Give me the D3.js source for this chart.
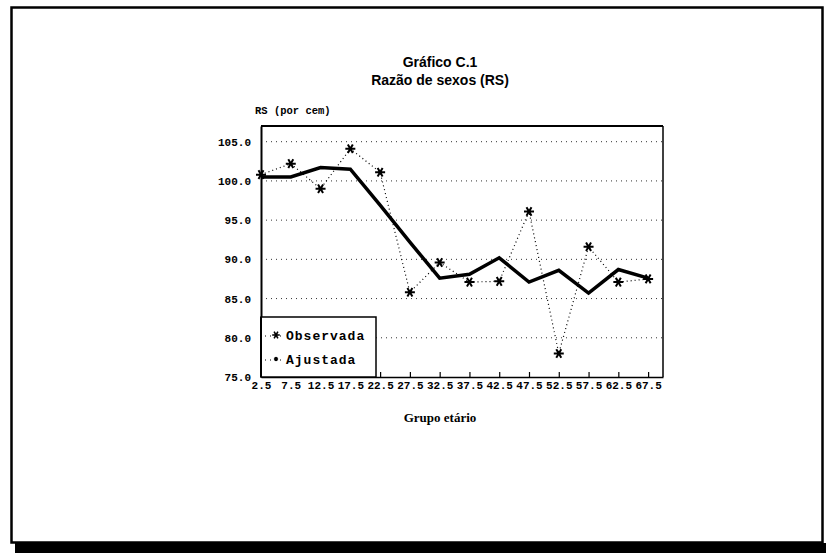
<!DOCTYPE html>
<html>
<head>
<meta charset="utf-8">
<title>Gráfico C.1</title>
<style>
  body { margin: 0; background: #fff; }
  svg { display: block; }
</style>
</head>
<body>
<script src="https://cdn.jsdelivr.net/npm/d3@7"></script>
<script>
  // dados
  var ages = [2.5, 7.5, 12.5, 17.5, 22.5, 27.5, 32.5, 37.5, 42.5, 47.5, 52.5, 57.5, 62.5, 67.5];
  var observada = [100.8, 102.2, 99.0, 104.1, 101.1, 85.8, 89.6, 87.1, 87.2, 96.1, 78.0, 91.6, 87.1, 87.5];
  var ajustada = [100.5, 100.5, 101.7, 101.5, 96.9, 92.2, 87.6, 88.1, 90.2, 87.1, 88.6, 85.7, 88.7, 87.6];
  var yTicks = [75, 80, 85, 90, 95, 100, 105];
  var legendLabels = ["Observada", "Ajustada"];

  var width = 826;
  var height = 553;
  var margin = ({ top: 126, right: 163, bottom: 176, left: 261 });

  var svg = d3.select("body").append("svg")
      .attr("width", width)
      .attr("height", height)
      .attr("viewBox", [0, 0, width, height]);

  // moldura com sombra
  svg.append("rect")
      .attr("x", 15).attr("y", 543)
      .attr("width", width - 15).attr("height", 10)
      .attr("fill", "#000");
  svg.append("rect")
      .attr("x", 11.5).attr("y", 7.5)
      .attr("width", 811).attr("height", 535)
      .attr("fill", "none")
      .attr("stroke", "#000")
      .attr("stroke-width", 2.5);

  var x = d3.scaleLinear()
      .domain([2.5, 70])
      .range([margin.left, width - margin.right]);

  var y = d3.scaleLinear()
      .domain([75, 107])
      .range([height - margin.bottom, margin.top]);

  // títulos
  svg.append("text")
      .attr("x", 440).attr("y", 67)
      .attr("text-anchor", "middle")
      .style("font", "bold 14px 'Liberation Sans', Arial, sans-serif")
      .text("Gráfico C.1");
  svg.append("text")
      .attr("x", 440).attr("y", 85)
      .attr("text-anchor", "middle")
      .style("font", "bold 14px 'Liberation Sans', Arial, sans-serif")
      .text("Razão de sexos (RS)");

  svg.append("text")
      .attr("x", 255).attr("y", 114)
      .style("font", "bold 10.5px 'Liberation Mono', monospace")
      .text("RS (por cem)");

  svg.append("text")
      .attr("x", 440).attr("y", 422)
      .attr("text-anchor", "middle")
      .style("font", "bold 13px 'Liberation Serif', serif")
      .text("Grupo etário");

  // grade pontilhada
  svg.append("g")
      .attr("class", "grid")
      .selectAll("line")
      .data(yTicks.filter(d => d > 75))
      .join("line")
      .attr("x1", x(2.5))
      .attr("x2", x(70))
      .attr("y1", d => y(d))
      .attr("y2", d => y(d))
      .attr("stroke", "#333")
      .attr("stroke-width", 1)
      .attr("stroke-dasharray", "1,4");

  // caixa do gráfico
  svg.append("line")
      .attr("x1", x(2.5)).attr("x2", x(70))
      .attr("y1", y(107)).attr("y2", y(107))
      .attr("stroke", "#000").attr("stroke-width", 2);
  svg.append("line")
      .attr("x1", x(70)).attr("x2", x(70))
      .attr("y1", y(107)).attr("y2", y(75))
      .attr("stroke", "#000").attr("stroke-width", 1.5);

  var xAxis = g => g
      .attr("transform", `translate(0,${y(75)})`)
      .call(d3.axisBottom(x).tickValues(ages).tickFormat(d3.format(".1f"))
        .tickSizeInner(-5).tickSizeOuter(0).tickPadding(4))
      .call(g => g.select(".domain").attr("stroke-width", 1.5))
      .call(g => g.selectAll(".tick line").attr("stroke-width", 1.2))
      .call(g => g.selectAll(".tick text")
        .style("font", "bold 11px 'Liberation Mono', monospace")
        .attr("fill", "#000"));

  var yAxis = g => g
      .attr("transform", `translate(${x(2.5)},0)`)
      .call(d3.axisLeft(y).tickValues(yTicks).tickFormat(d3.format(".1f"))
        .tickSize(0).tickPadding(10))
      .call(g => g.select(".domain").attr("stroke-width", 2))
      .call(g => g.selectAll(".tick text")
        .style("font", "bold 11px 'Liberation Mono', monospace")
        .attr("fill", "#000"));

  svg.append("g").attr("class", "x-axis").call(xAxis);
  svg.append("g").attr("class", "y-axis").call(yAxis);

  var line = d3.line()
      .x((d, i) => x(ages[i]))
      .y(d => y(d));

  // observada: pontilhada com estrelas
  svg.append("path")
      .datum(observada)
      .attr("fill", "none")
      .attr("stroke", "#000")
      .attr("stroke-width", 1.2)
      .attr("stroke-dasharray", "1,3")
      .attr("d", line);

  // ajustada: linha grossa
  svg.append("path")
      .datum(ajustada)
      .attr("fill", "none")
      .attr("stroke", "#000")
      .attr("stroke-width", 3.5)
      .attr("stroke-linejoin", "miter")
      .attr("d", line);

  var star = d3.symbol().type(d3.symbolAsterisk).size(70);

  svg.append("g")
      .attr("class", "markers")
      .selectAll("path")
      .data(observada)
      .join("path")
      .attr("transform", (d, i) => `translate(${x(ages[i])},${y(d)}) rotate(90)`)
      .attr("d", star)
      .attr("fill", "none")
      .attr("stroke", "#000")
      .attr("stroke-width", 2);

  // legenda
  var legend = svg.append("g").attr("class", "legend");
  legend.append("rect")
      .attr("x", x(2.5)).attr("y", 317)
      .attr("width", 115).attr("height", y(75) - 317)
      .attr("fill", "#fff")
      .attr("stroke", "#000")
      .attr("stroke-width", 1.5);
  // reaplica o eixo esquerdo por cima da legenda
  legend.append("line")
      .attr("x1", x(2.5)).attr("x2", x(2.5))
      .attr("y1", 317).attr("y2", y(75))
      .attr("stroke", "#000").attr("stroke-width", 2);

  var items = legend.selectAll("g.item")
      .data(legendLabels)
      .join("g")
      .attr("class", "item")
      .attr("transform", (d, i) => `translate(0,${336 + i * 24})`);

  items.append("line")
      .attr("x1", x(2.5) + 4).attr("x2", x(2.5) + 20)
      .attr("y1", 0).attr("y2", 0)
      .attr("stroke", "#000")
      .attr("stroke-dasharray", "1,4");

  items.append("path")
      .attr("transform", `translate(${x(2.5) + 15},-1) rotate(90)`)
      .attr("d", (d, i) => d3.symbol().type(d3.symbolAsterisk).size(i === 0 ? 40 : 12)())
      .attr("fill", "none")
      .attr("stroke", "#000")
      .attr("stroke-width", 1.6);

  items.append("text")
      .attr("x", x(2.5) + 25)
      .attr("y", 4)
      .style("font", "bold 13px 'Liberation Mono', monospace")
      .style("letter-spacing", "1px")
      .text(d => d);
</script>
</body>
</html>
